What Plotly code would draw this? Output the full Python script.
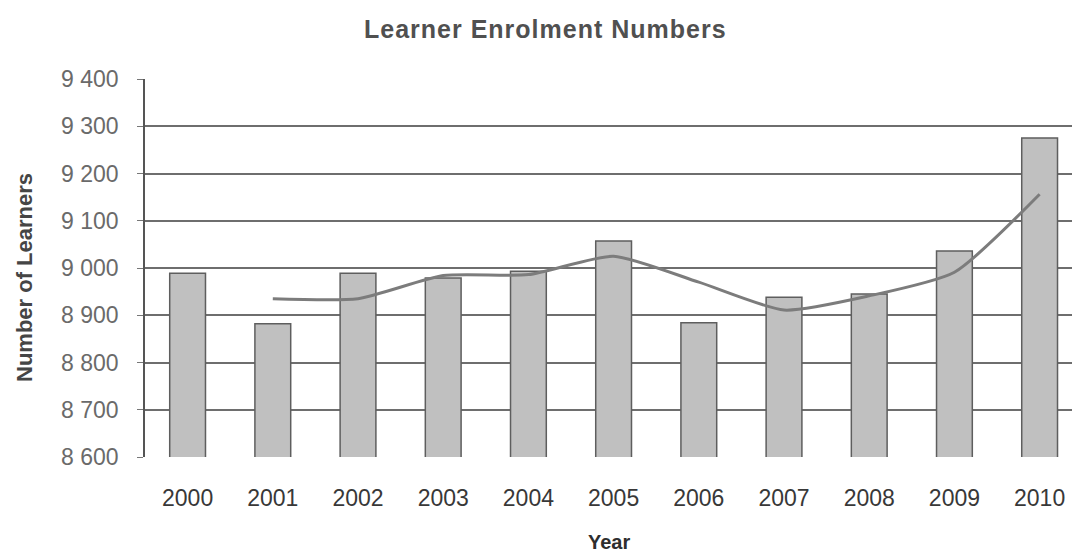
import plotly.graph_objects as go

# Learner enrolment per year
years = ["2000", "2001", "2002", "2003", "2004", "2005", "2006", "2007", "2008", "2009", "2010"]
learners = [8989, 8882, 8989, 8979, 8993, 9057, 8884, 8938, 8945, 9036, 9275]

# Two-period moving-average trend (no value for the first year)
trend = [None, 8935, 8935, 8984, 8986, 9025, 8970, 8911, 8941, 8991, 9156]

y_ticks = [8600, 8700, 8800, 8900, 9000, 9100, 9200, 9300, 9400]

fig = go.Figure()

fig.add_trace(go.Bar(
    x=years, y=learners, width=0.42,
    marker=dict(color="#c0c0c0", line=dict(color="#5e5e5e", width=1.5)),
    showlegend=False,
))

fig.add_trace(go.Scatter(
    x=years, y=trend, mode="lines",
    line=dict(color="#7c7c7c", width=3, shape="spline", smoothing=0.6),
    connectgaps=False, showlegend=False,
))

fig.update_layout(
    width=1072, height=557,
    margin=dict(l=145, r=0, t=79, b=100),
    paper_bgcolor="white", plot_bgcolor="white",
    separators=". ",
    font=dict(family="Liberation Sans, Arial, sans-serif"),
)

fig.update_xaxes(
    type="category", range=[-0.5, 10.38],
    showgrid=False, showline=False, ticks="",
    tickfont=dict(size=23, color="#383838"),
    ticklabelstandoff=25,
)

fig.update_yaxes(
    range=[8600, 9400], tickvals=y_ticks, tickformat=",d",
    showgrid=True, gridcolor="#6e6e6e", gridwidth=1.5,
    showline=True, linecolor="#555555", linewidth=1.5,
    ticks="outside", ticklen=6, tickcolor="#777777",
    tickfont=dict(size=23, color="#6a6a6a"),
    ticklabelstandoff=14,
    zeroline=False,
)

fig.add_annotation(
    text="<b><span style='letter-spacing:1px'>Learner Enrolment Numbers</span></b>",
    xref="paper", yref="paper", x=(545 - 145) / 927, y=1 + (79 - 29) / 378,
    xanchor="center", yanchor="middle", showarrow=False,
    font=dict(size=25, color="#505050"),
)
fig.add_annotation(
    text="<b>Number of Learners</b>",
    xref="paper", yref="paper", x=-(145 - 24) / 927, y=(457 - 277) / 378,
    xanchor="center", yanchor="middle", showarrow=False, textangle=-90,
    font=dict(size=22, color="#454545"),
)
fig.add_annotation(
    text="<b>Year</b>",
    xref="paper", yref="paper", x=(609 - 145) / 927, y=-(542 - 457) / 378,
    xanchor="center", yanchor="middle", showarrow=False,
    font=dict(size=20, color="#2e2e2e"),
)

fig.write_html("out.html")
